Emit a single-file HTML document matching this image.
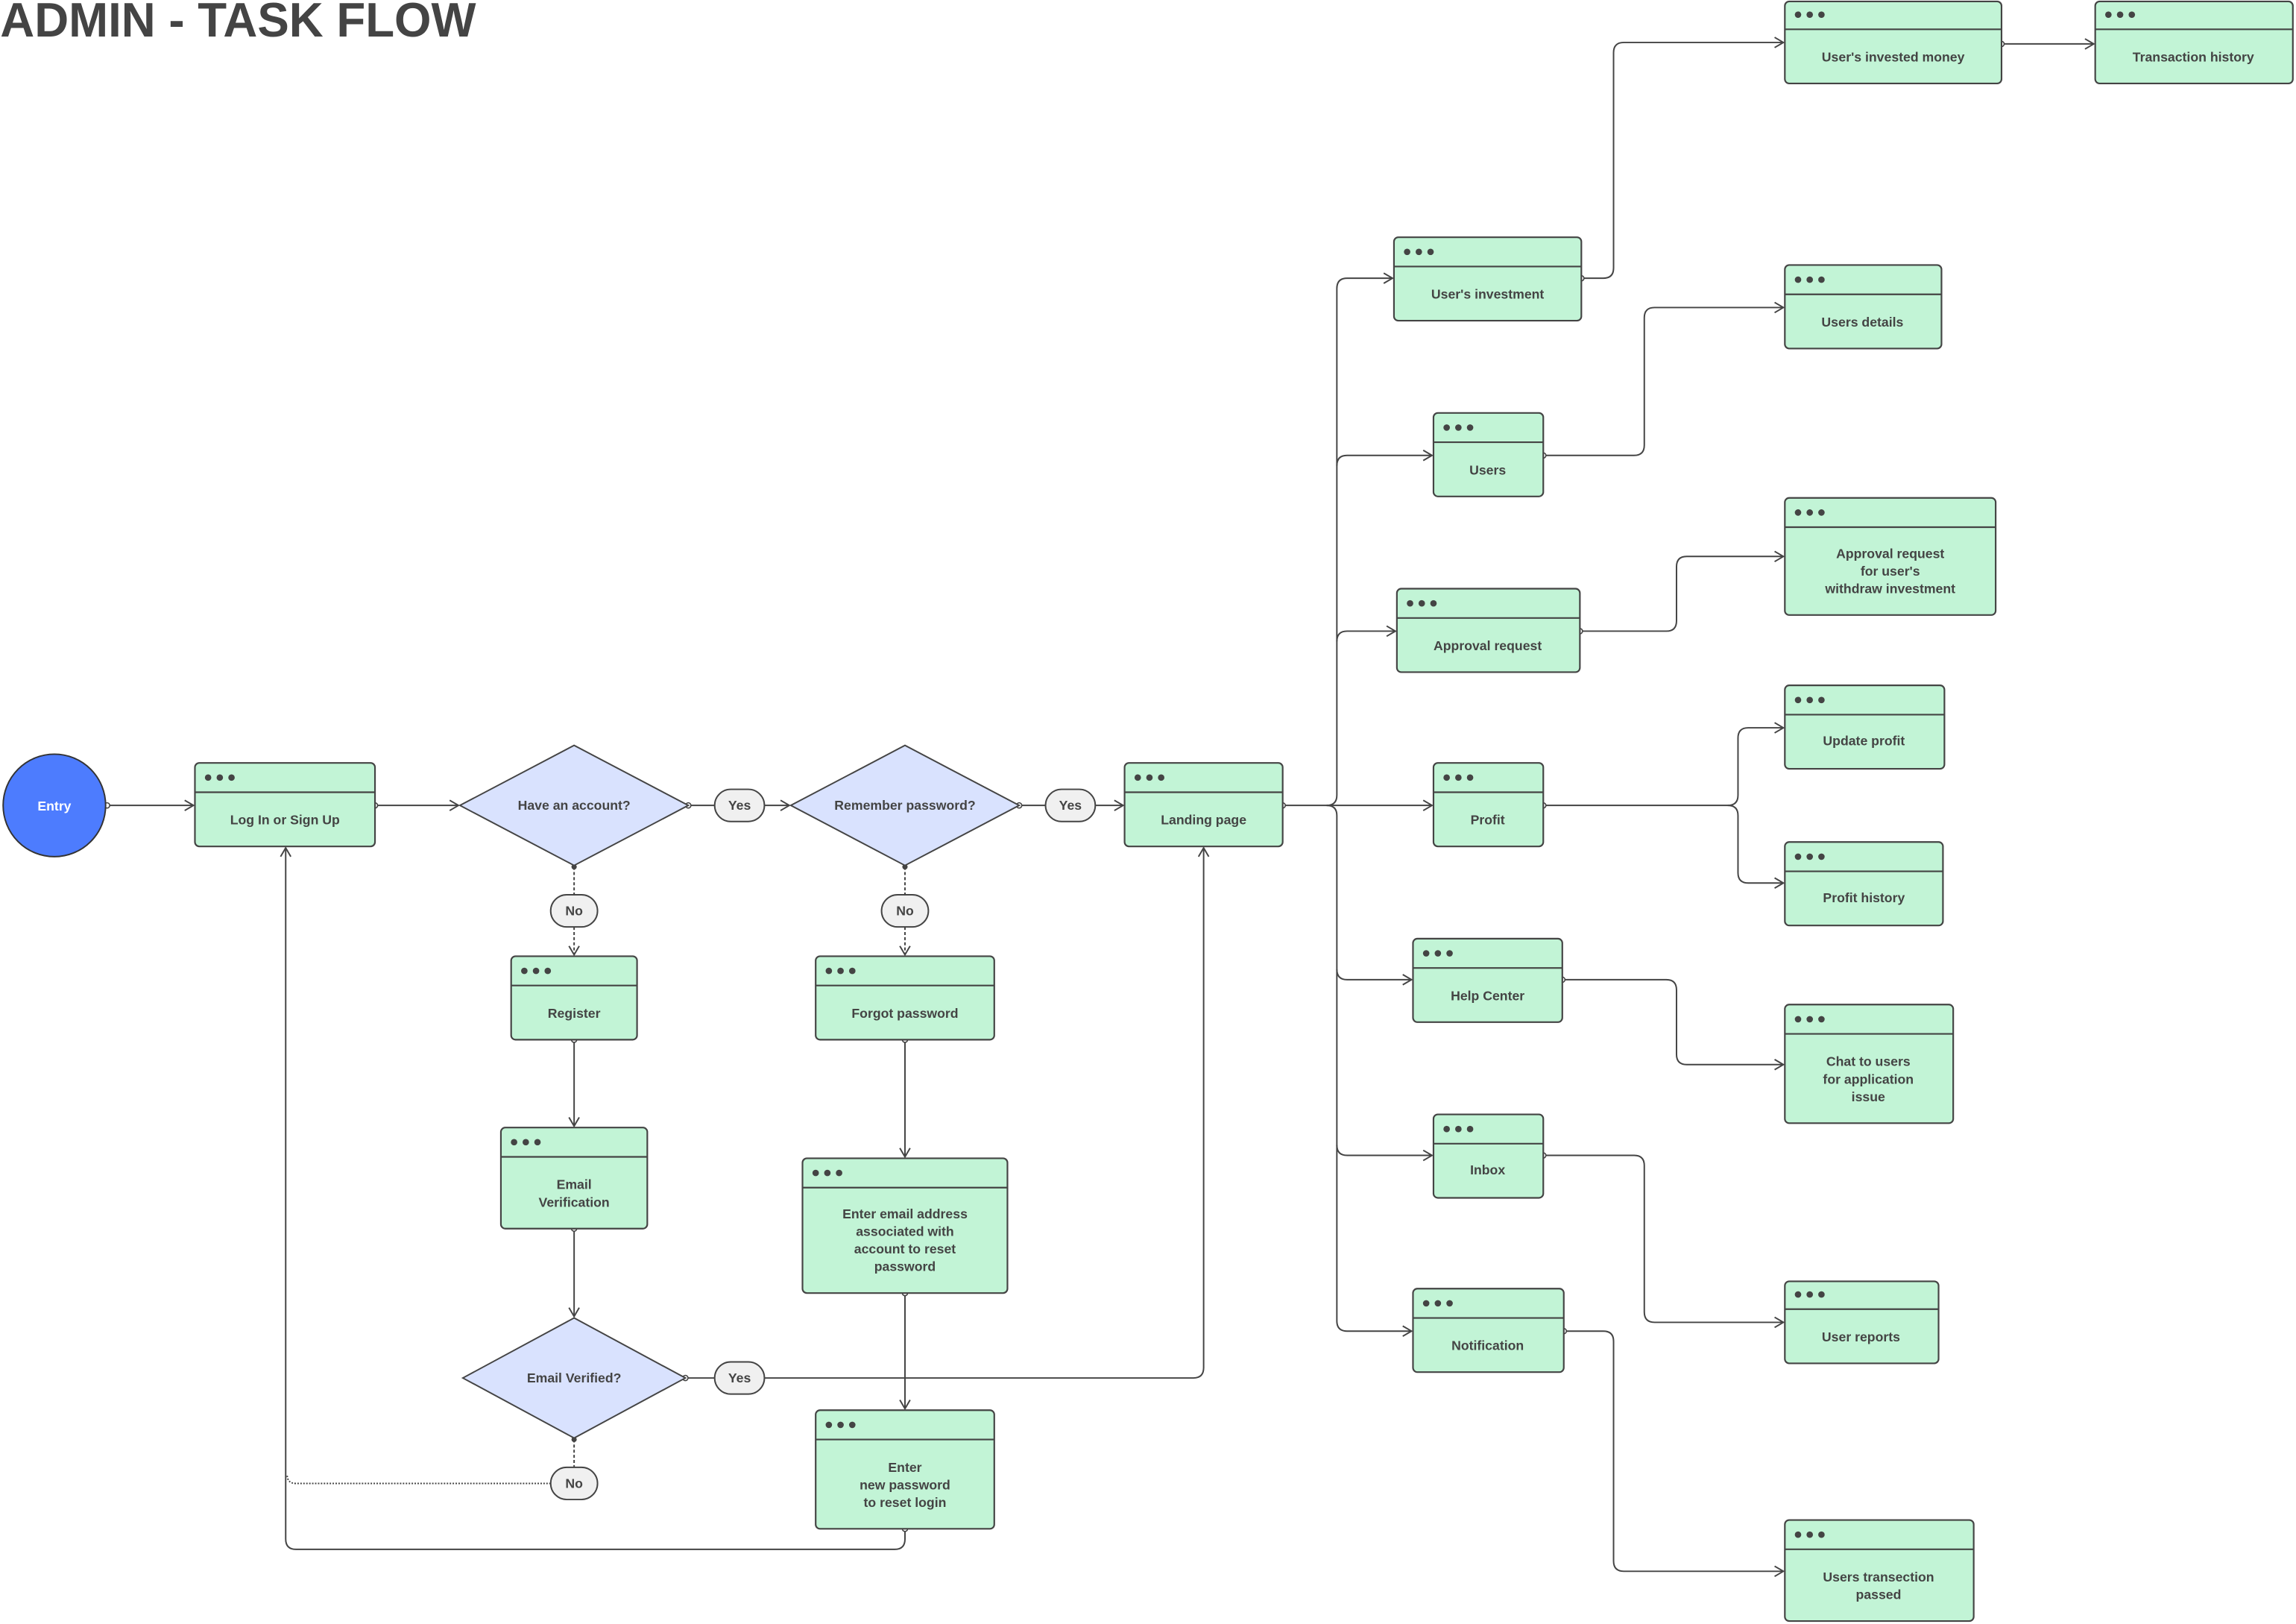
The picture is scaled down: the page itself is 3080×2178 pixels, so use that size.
<!DOCTYPE html>
<html><head><meta charset="utf-8"><style>
html,body{margin:0;padding:0;background:#fff;}
svg{display:block;}
text{font-family:"Liberation Sans",sans-serif;font-weight:bold;fill:#444;}
</style></head><body>
<svg width="3080" height="2178" viewBox="0 0 1568 1109" xmlns="http://www.w3.org/2000/svg">
<defs>
<marker id="a" markerWidth="10" markerHeight="10" refX="7" refY="4" orient="auto" markerUnits="userSpaceOnUse"><path d="M1,0.5 L7,4 L1,7.5" fill="none" stroke="#444" stroke-width="1"/></marker>
<marker id="o" markerWidth="6" markerHeight="6" refX="3" refY="3" orient="auto" markerUnits="userSpaceOnUse"><circle cx="3" cy="3" r="1.8" fill="#fff" stroke="#444" stroke-width="0.8"/></marker>
<marker id="d" markerWidth="6" markerHeight="6" refX="3" refY="3" orient="auto" markerUnits="userSpaceOnUse"><circle cx="3" cy="3" r="1.8" fill="#444"/></marker>
<g id="dots" fill="#444"><circle cx="9" cy="10" r="2.2"/><circle cx="17" cy="10" r="2.2"/><circle cx="25" cy="10" r="2.2"/></g>
</defs>

<text x="0" y="25" font-size="33" textLength="325" lengthAdjust="spacingAndGlyphs">ADMIN - TASK FLOW</text>

<!-- connectors -->
<g fill="none" stroke="#444" stroke-width="1">
<path d="M73,550 H132" marker-start="url(#o)" marker-end="url(#a)"/>
<path d="M256,550 H313" marker-start="url(#o)" marker-end="url(#a)"/>
<path d="M470,550 H488" marker-start="url(#o)"/>
<path d="M522,550 H539" marker-end="url(#a)"/>
<path d="M696,550 H714" marker-start="url(#o)"/>
<path d="M748,550 H767" marker-end="url(#a)"/>
<path d="M392,592 V611" stroke-dasharray="2,1.5" marker-start="url(#d)"/>
<path d="M392,633 V652" stroke-dasharray="2,1.5" marker-end="url(#a)"/>
<path d="M618,592 V611" stroke-dasharray="2,1.5" marker-start="url(#d)"/>
<path d="M618,633 V652" stroke-dasharray="2,1.5" marker-end="url(#a)"/>
<path d="M392,710 V769" marker-start="url(#o)" marker-end="url(#a)"/>
<path d="M392,839 V899" marker-start="url(#o)" marker-end="url(#a)"/>
<path d="M618,710 V790" marker-start="url(#o)" marker-end="url(#a)"/>
<path d="M618,883 V962" marker-start="url(#o)" marker-end="url(#a)"/>
<path d="M468,941 H488" marker-start="url(#o)"/>
<path d="M522,941 H815 Q822,941 822,934 V579" marker-end="url(#a)"/>
<path d="M392,983 V1002" stroke-dasharray="2,1.5" marker-start="url(#d)"/>
<path d="M376,1013 H202 Q196,1013 196,1007" stroke-dasharray="1,1"/>
<path d="M618,1044 V1051 Q618,1058 611,1058 H202 Q195,1058 195,1051 V579" marker-start="url(#o)" marker-end="url(#a)"/>
<!-- bus -->
<path d="M876,550 H906" marker-start="url(#o)"/>
<path d="M906,550 Q913,550 913,543 V197 Q913,190 920,190 H951" marker-end="url(#a)"/>
<path d="M913,318 Q913,311 920,311 H978" marker-end="url(#a)"/>
<path d="M913,438 Q913,431 920,431 H953" marker-end="url(#a)"/>
<path d="M906,550 H978" marker-end="url(#a)"/>
<path d="M906,550 Q913,550 913,557 V902 Q913,909 920,909 H964" marker-end="url(#a)"/>
<path d="M913,662 Q913,669 920,669 H964" marker-end="url(#a)"/>
<path d="M913,782 Q913,789 920,789 H978" marker-end="url(#a)"/>
<!-- right -->
<path d="M1080,190 H1095 Q1102,190 1102,183 V36 Q1102,29 1109,29 H1218" marker-start="url(#o)" marker-end="url(#a)"/>
<path d="M1367,30 H1430" marker-start="url(#o)" marker-end="url(#a)"/>
<path d="M1054,311 H1116 Q1123,311 1123,304 V217 Q1123,210 1130,210 H1218" marker-start="url(#o)" marker-end="url(#a)"/>
<path d="M1079,431 H1138 Q1145,431 1145,424 V387 Q1145,380 1152,380 H1218" marker-start="url(#o)" marker-end="url(#a)"/>
<path d="M1054,550 H1180 Q1187,550 1187,543 V504 Q1187,497 1194,497 H1218" marker-start="url(#o)" marker-end="url(#a)"/>
<path d="M1180,550 Q1187,550 1187,557 V596 Q1187,603 1194,603 H1218" marker-end="url(#a)"/>
<path d="M1067,669 H1138 Q1145,669 1145,676 V720 Q1145,727 1152,727 H1218" marker-start="url(#o)" marker-end="url(#a)"/>
<path d="M1054,789 H1116 Q1123,789 1123,796 V896 Q1123,903 1130,903 H1218" marker-start="url(#o)" marker-end="url(#a)"/>
<path d="M1068,909 H1095 Q1102,909 1102,916 V1066 Q1102,1073 1109,1073 H1218" marker-start="url(#o)" marker-end="url(#a)"/>
</g>

<!-- entry -->
<circle cx="37" cy="550" r="35" fill="#4d7cfe" stroke="#333" stroke-width="1"/>
<text x="37" y="553.5" font-size="9" text-anchor="middle" style="fill:#fff">Entry</text>

<!-- diamonds -->
<g fill="#d9e2fe" stroke="#444" stroke-width="1">
<polygon points="314,550 392,509 470,550 392,591"/>
<polygon points="540,550 618,509 696,550 618,591"/>
<polygon points="316,941 392,900 468,941 392,982"/>
</g>
<g font-size="9" text-anchor="middle">
<text x="392" y="553">Have an account?</text>
<text x="618" y="553">Remember password?</text>
<text x="392" y="944">Email Verified?</text>
</g>

<!-- pills -->
<g fill="#f0f0f0" stroke="#444" stroke-width="1">
<rect x="488" y="539" width="34" height="22" rx="11"/>
<rect x="714" y="539" width="34" height="22" rx="11"/>
<rect x="376" y="611" width="32" height="22" rx="11"/>
<rect x="602" y="611" width="32" height="22" rx="11"/>
<rect x="488" y="930" width="34" height="22" rx="11"/>
<rect x="376" y="1002" width="32" height="22" rx="11"/>
</g>
<g font-size="9" text-anchor="middle">
<text x="505" y="553">Yes</text><text x="731" y="553">Yes</text>
<text x="392" y="625">No</text><text x="618" y="625">No</text>
<text x="505" y="944">Yes</text><text x="392" y="1016">No</text>
</g>

<!-- screen nodes -->
<g fill="#c2f4d6" stroke="#444" stroke-width="1.1">
<rect x="133" y="521" width="123" height="57" rx="3"/>
<rect x="349" y="653" width="86" height="57" rx="3"/>
<rect x="342" y="770" width="100" height="69" rx="3"/>
<rect x="557" y="653" width="122" height="57" rx="3"/>
<rect x="548" y="791" width="140" height="92" rx="3"/>
<rect x="557" y="963" width="122" height="81" rx="3"/>
<rect x="768" y="521" width="108" height="57" rx="3"/>
<rect x="952" y="162" width="128" height="57" rx="3"/>
<rect x="979" y="282" width="75" height="57" rx="3"/>
<rect x="954" y="402" width="125" height="57" rx="3"/>
<rect x="979" y="521" width="75" height="57" rx="3"/>
<rect x="965" y="641" width="102" height="57" rx="3"/>
<rect x="979" y="761" width="75" height="57" rx="3"/>
<rect x="965" y="880" width="103" height="57" rx="3"/>
<rect x="1219" y="1" width="148" height="56" rx="3"/>
<rect x="1431" y="1" width="135" height="56" rx="3"/>
<rect x="1219" y="181" width="107" height="57" rx="3"/>
<rect x="1219" y="340" width="144" height="80" rx="3"/>
<rect x="1219" y="468" width="109" height="57" rx="3"/>
<rect x="1219" y="575" width="108" height="57" rx="3"/>
<rect x="1219" y="686" width="115" height="81" rx="3"/>
<rect x="1219" y="875" width="105" height="56" rx="3"/>
<rect x="1219" y="1038" width="129" height="69" rx="3"/>
</g>
<g stroke="#444" stroke-width="1.1">
<path d="M133,541H256 M349,673H435 M342,790H442 M557,673H679 M548,811H688 M557,983H679 M768,541H876 M952,182H1080 M979,302H1054 M954,422H1079 M979,541H1054 M965,661H1067 M979,781H1054 M965,900H1068 M1219,20H1367 M1431,20H1566 M1219,201H1326 M1219,360H1363 M1219,488H1328 M1219,595H1327 M1219,706H1334 M1219,894H1324 M1219,1058H1348"/>
</g>
<use href="#dots" x="133" y="521"/><use href="#dots" x="349" y="653"/><use href="#dots" x="342" y="770"/>
<use href="#dots" x="557" y="653"/><use href="#dots" x="548" y="791"/><use href="#dots" x="557" y="963"/>
<use href="#dots" x="768" y="521"/><use href="#dots" x="952" y="162"/><use href="#dots" x="979" y="282"/>
<use href="#dots" x="954" y="402"/><use href="#dots" x="979" y="521"/><use href="#dots" x="965" y="641"/>
<use href="#dots" x="979" y="761"/><use href="#dots" x="965" y="880"/><use href="#dots" x="1219" y="0"/>
<use href="#dots" x="1431" y="0"/><use href="#dots" x="1219" y="181"/><use href="#dots" x="1219" y="340"/>
<use href="#dots" x="1219" y="468"/><use href="#dots" x="1219" y="575"/><use href="#dots" x="1219" y="686"/>
<use href="#dots" x="1219" y="874"/><use href="#dots" x="1219" y="1038"/>

<g font-size="9" text-anchor="middle">
<text x="194.5" y="563">Log In or Sign Up</text>
<text x="392" y="695">Register</text>
<text x="392" y="812">Email</text><text x="392" y="824">Verification</text>
<text x="618" y="695">Forgot password</text>
<text x="618" y="832">Enter email address</text><text x="618" y="844">associated with</text><text x="618" y="856">account to reset</text><text x="618" y="868">password</text>
<text x="618" y="1005">Enter</text><text x="618" y="1017">new password</text><text x="618" y="1029">to reset login</text>
<text x="822" y="563">Landing page</text>
<text x="1016" y="204">User's investment</text>
<text x="1016" y="324">Users</text>
<text x="1016" y="444">Approval request</text>
<text x="1016" y="563">Profit</text>
<text x="1016" y="683">Help Center</text>
<text x="1016" y="802">Inbox</text>
<text x="1016" y="922">Notification</text>
<text x="1293" y="42">User's invested money</text>
<text x="1498" y="42">Transaction history</text>
<text x="1272" y="223">Users details</text>
<text x="1291" y="381">Approval request</text><text x="1291" y="393">for user's</text><text x="1291" y="405">withdraw investment</text>
<text x="1273" y="509">Update profit</text>
<text x="1273" y="616">Profit history</text>
<text x="1276" y="728">Chat to users</text><text x="1276" y="740">for application</text><text x="1276" y="752">issue</text>
<text x="1271" y="916">User reports</text>
<text x="1283" y="1080">Users transection</text><text x="1283" y="1092">passed</text>
</g>
</svg>
</body></html>
